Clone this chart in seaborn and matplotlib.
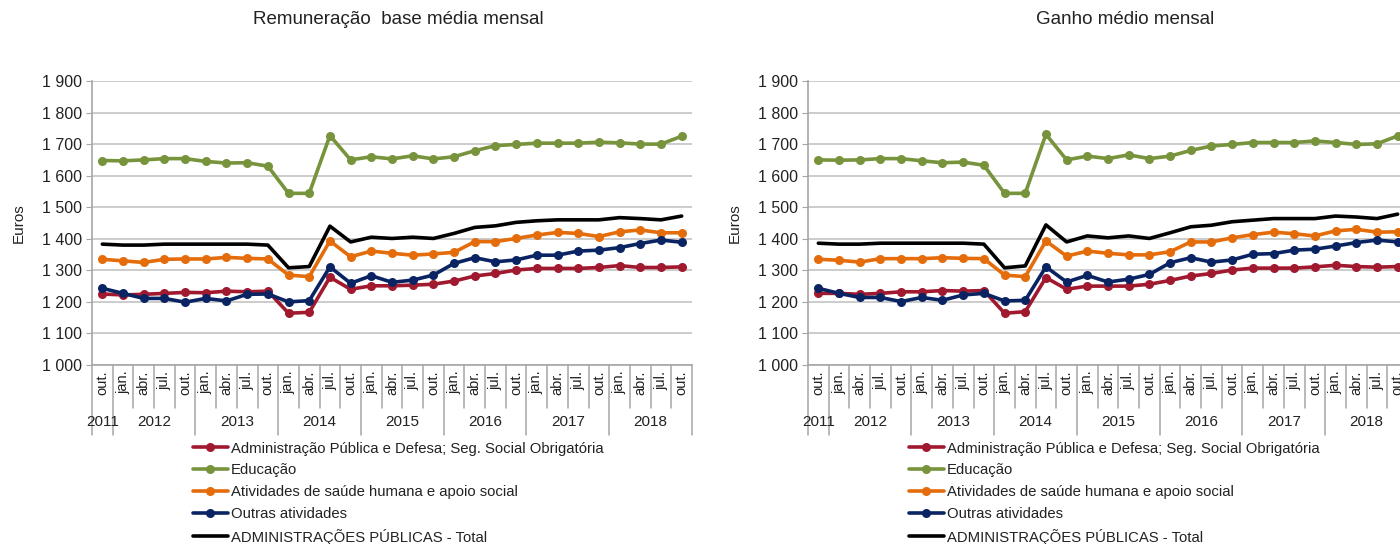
import numpy as np
import pandas as pd
import matplotlib
matplotlib.use("Agg")
import matplotlib.pyplot as plt
import matplotlib.transforms as mtransforms
import seaborn as sns

sns.set_style("white")
plt.rcParams['font.family'] = ['Liberation Sans', 'DejaVu Sans']

# x axis: quarters from out. 2011 to out. 2018
meses = ["out."] + ["jan.", "abr.", "jul.", "out."] * 7
anos = ["2011", "2012", "2013", "2014", "2015", "2016", "2017", "2018"]
meses_por_ano = [1, 4, 4, 4, 4, 4, 4, 4]

series = ["Administração Pública e Defesa; Seg. Social Obrigatória",
          "Educação",
          "Atividades de saúde humana e apoio social",
          "Outras atividades",
          "ADMINISTRAÇÕES PÚBLICAS - Total"]
cores = ["#A0192E", "#77933C", "#E46C0A", "#0A2463", "#000000"]

# Remuneração base média mensal
adm_base = [1225, 1222, 1224, 1227, 1230, 1229, 1234, 1232, 1234, 1164, 1167, 1278, 1240,
            1251, 1251, 1253, 1256, 1266, 1282, 1290, 1301, 1306, 1306, 1306, 1309, 1315, 1309, 1309, 1311]
edu_base = [1648, 1647, 1650, 1654, 1654, 1645, 1640, 1641, 1630, 1544, 1544, 1727, 1650,
            1660, 1653, 1663, 1653, 1660, 1679, 1695, 1699, 1703, 1703, 1703, 1706, 1704, 1700, 1700, 1725]
sau_base = [1335, 1330, 1325, 1335, 1336, 1336, 1341, 1338, 1336, 1285, 1280, 1393, 1343,
            1361, 1354, 1348, 1352, 1357, 1391, 1391, 1401, 1412, 1420, 1417, 1407, 1422, 1428, 1419, 1419]
out_base = [1243, 1227, 1211, 1211, 1199, 1211, 1203, 1224, 1225, 1200, 1204, 1311, 1259,
            1283, 1262, 1269, 1285, 1322, 1340, 1327, 1333, 1348, 1348, 1361, 1364, 1372, 1385, 1396, 1389]
tot_base = [1383, 1380, 1380, 1383, 1383, 1383, 1383, 1383, 1380, 1308, 1312, 1440, 1390,
            1405, 1401, 1405, 1401, 1417, 1436, 1441, 1452, 1457, 1460, 1460, 1460, 1467, 1464, 1460, 1472]

# Ganho médio mensal
adm_ganho = [1227, 1227, 1224, 1227, 1232, 1232, 1236, 1234, 1236, 1164, 1169, 1277, 1240,
             1250, 1250, 1250, 1256, 1268, 1282, 1290, 1301, 1307, 1307, 1307, 1311, 1316, 1312, 1310, 1312]
edu_ganho = [1650, 1649, 1650, 1654, 1654, 1647, 1641, 1643, 1633, 1544, 1544, 1731, 1650,
             1662, 1654, 1666, 1654, 1662, 1680, 1694, 1699, 1705, 1705, 1705, 1710, 1705, 1699, 1701, 1726]
sau_ganho = [1335, 1332, 1326, 1337, 1337, 1337, 1340, 1338, 1337, 1285, 1280, 1393, 1345,
             1361, 1354, 1349, 1349, 1359, 1390, 1390, 1403, 1413, 1421, 1416, 1409, 1425, 1430, 1421, 1422]
out_ganho = [1243, 1227, 1214, 1214, 1201, 1214, 1205, 1222, 1227, 1203, 1205, 1311, 1263,
             1284, 1263, 1272, 1287, 1324, 1340, 1326, 1333, 1351, 1353, 1364, 1367, 1377, 1388, 1396, 1390]
tot_ganho = [1386, 1383, 1383, 1386, 1386, 1386, 1386, 1386, 1383, 1308, 1314, 1444, 1390,
             1409, 1403, 1409, 1401, 1419, 1438, 1443, 1454, 1459, 1464, 1464, 1464, 1472, 1469, 1464, 1478]

paineis = [
    ("Remuneração  base média mensal", [adm_base, edu_base, sau_base, out_base, tot_base]),
    ("Ganho médio mensal", [adm_ganho, edu_ganho, sau_ganho, out_ganho, tot_ganho]),
]

W, H = 1400, 544
fig = plt.figure(figsize=(W / 100, H / 100), dpi=100)

ax_left = [92, 808]
title_x = [398, 1125]
gris = "#A6A6A6"

for p, (titulo, valores) in enumerate(paineis):
    ax = fig.add_axes([ax_left[p] / W, (H - 365) / H, 600 / W, 284 / H])
    x = np.arange(len(meses))
    for nome, cor, vals in zip(series, cores, valores):
        df = pd.DataFrame({"x": x, "y": vals})
        total = nome.startswith("ADMIN")
        sns.lineplot(data=df, x="x", y="y", ax=ax, color=cor, linewidth=2.6,
                     marker=None if total else "o", markersize=6.5,
                     markeredgewidth=0, label=nome)

    ax.set_xlim(-0.5, len(meses) - 0.5)
    ax.set_ylim(1000, 1900)
    ax.set_yticks(np.arange(1000, 1901, 100))
    ax.set_yticklabels([f"{v:,}".replace(",", " ") for v in range(1000, 1901, 100)])
    ax.yaxis.grid(True, color="#C8C8C8", linewidth=1.3)
    ax.set_axisbelow(True)
    ax.set_xticks(x)
    ax.set_xticklabels(meses, rotation=90, fontsize=10.5, color="#222222")
    ax.tick_params(axis="x", length=0, pad=4)
    ax.tick_params(axis="y", length=4, color=gris, labelsize=11.5, labelcolor="#222222", pad=3, left=True)
    for s in ["top", "right"]:
        ax.spines[s].set_visible(False)
    for s in ["left", "bottom"]:
        ax.spines[s].set_color(gris)
        ax.spines[s].set_linewidth(1.2)
    ax.set_xlabel("")
    ax.set_ylabel("Euros", fontsize=11, labelpad=12, color="#222222")

    # separators below the axis
    trans = mtransforms.blended_transform_factory(ax.transData, ax.transAxes)
    fronteiras = np.cumsum([0] + meses_por_ano) - 0.5
    for k in range(len(meses) + 1):
        xb = k - 0.5
        y_fim = -0.248 if xb in fronteiras else -0.151
        ax.plot([xb, xb], [0, y_fim], color=gris, linewidth=1.1,
                transform=trans, clip_on=False)
    for ano, i0, n in zip(anos, fronteiras[:-1], meses_por_ano):
        ax.text(i0 + n / 2, -0.2, ano, transform=trans, ha="center", va="center",
                fontsize=11, color="#222222")

    leg = ax.legend(loc="upper left", bbox_to_anchor=(101 / 600, -0.27), frameon=False,
                    fontsize=10.7, handlelength=2.35, handletextpad=0.2, labelspacing=0.52,
                    borderaxespad=0, borderpad=0)
    for t in leg.get_texts():
        t.set_color("#222222")

    fig.text(title_x[p] / W, 1 - 20 / H, titulo, ha="center", va="center",
             fontsize=13.5, color="#222222")

fig.savefig("out.png", dpi=100)
